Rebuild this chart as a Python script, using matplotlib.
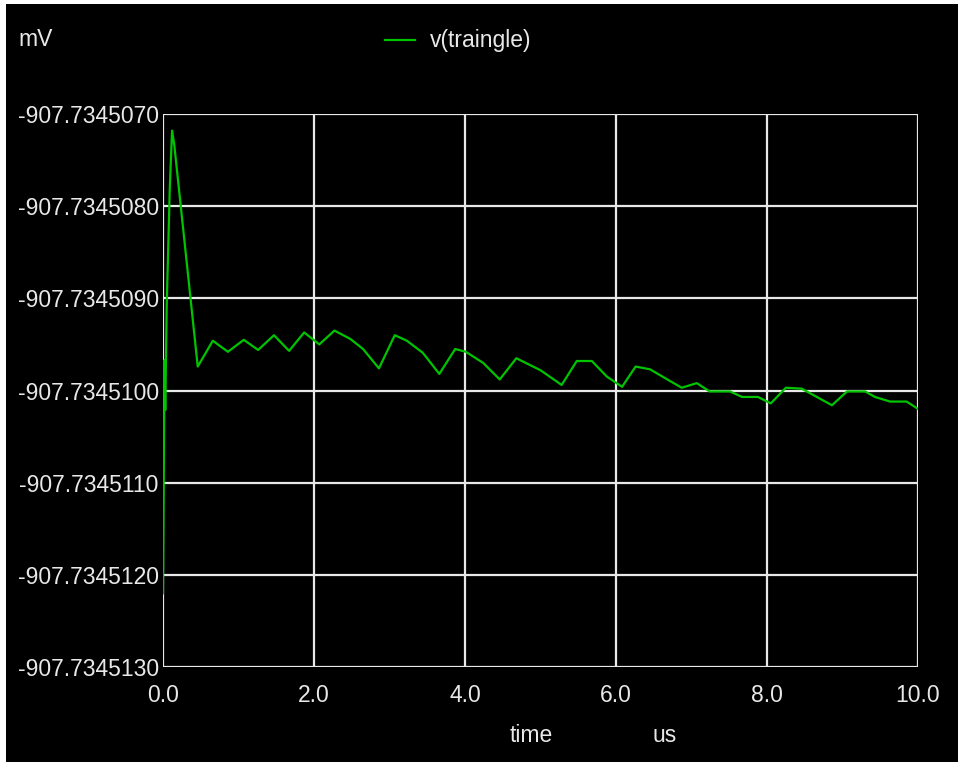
import matplotlib
matplotlib.use("Agg")
import matplotlib.pyplot as plt
from matplotlib.patches import Rectangle
from matplotlib.ticker import FormatStrFormatter

# time in us
time_us = [0.00, 0.02, 0.03, 0.04, 0.05, 0.09, 0.12, 0.15, 0.46, 0.66,
           0.86, 1.07, 1.26, 1.47, 1.67, 1.87, 2.07, 2.27, 2.48, 2.65,
           2.86, 3.07, 3.23, 3.44, 3.66, 3.87, 4.01, 4.24, 4.46, 4.68,
           5.00, 5.28, 5.48, 5.68, 5.88, 6.08, 6.26, 6.45, 6.68, 6.87,
           7.07, 7.24, 7.51, 7.67, 7.88, 8.05, 8.25, 8.46, 8.86, 9.06,
           9.30, 9.43, 9.63, 9.85, 10.00]
# v(traingle) in mV
v_mv = [-907.73451220, -907.73450967, -907.73451021, -907.73450961, -907.73450905,
        -907.73450780, -907.73450718, -907.73450734, -907.73450974, -907.73450946,
        -907.73450958, -907.73450945, -907.73450956, -907.73450940, -907.73450957,
        -907.73450937, -907.73450950, -907.73450935, -907.73450944, -907.73450955,
        -907.73450976, -907.73450940, -907.73450946, -907.73450959, -907.73450982,
        -907.73450955, -907.73450958, -907.73450970, -907.73450988, -907.73450965,
        -907.73450978, -907.73450994, -907.73450968, -907.73450968, -907.73450985,
        -907.73450996, -907.73450974, -907.73450977, -907.73450988, -907.73450997,
        -907.73450992, -907.73451001, -907.73451001, -907.73451007, -907.73451007,
        -907.73451014, -907.73450997, -907.73450998, -907.73451016, -907.73451001,
        -907.73451001, -907.73451007, -907.73451012, -907.73451012, -907.73451020]

y_ticks = [-907.7345130, -907.7345120, -907.7345110, -907.7345100,
           -907.7345090, -907.7345080, -907.7345070]
x_ticks = [0.0, 2.0, 4.0, 6.0, 8.0, 10.0]

plt.rcParams['font.family'] = ['Liberation Sans', 'DejaVu Sans']

fig = plt.figure(figsize=(9.58, 7.62), dpi=100, facecolor='white')
fig.patches.append(Rectangle((6 / 958, 0), 1, 758 / 762, transform=fig.transFigure,
                             facecolor='black', edgecolor='none', zorder=-1))
ax = fig.add_axes([163 / 958, 95 / 762, 755 / 958, 553 / 762])
ax.set_facecolor('black')

ax.plot(time_us, v_mv, color='#00c400', lw=1.6, zorder=3)

ax.set_xlim(0, 10)
ax.set_ylim(y_ticks[0], y_ticks[-1])
ax.set_xticks(x_ticks)
ax.set_yticks(y_ticks)
ax.xaxis.set_major_formatter(FormatStrFormatter('%.1f'))
ax.yaxis.set_major_formatter(FormatStrFormatter('%.7f'))
ax.grid(True, color='#e8e8e8', lw=1.6)
ax.tick_params(length=0, colors='#e8e8e8', labelsize=16.5, pad=3)
ax.tick_params(axis='x', pad=12)
for s in ax.spines.values():
    s.set_visible(False)

fig.text(18 / 958, 1 - 40 / 762, 'mV', color='#e8e8e8', fontsize=16.5, va='center')
fig.lines.append(plt.Line2D([385 / 958, 415 / 958], [1 - 40 / 762, 1 - 40 / 762],
                            transform=fig.transFigure, color='#00c400', lw=1.6))
fig.text(430 / 958, 1 - 40 / 762, 'v(traingle)', color='#e8e8e8', fontsize=16.5, va='center')
fig.text(510 / 958, 1 - 736 / 762, 'time', color='#e8e8e8', fontsize=16.5, va='center')
fig.text(652 / 958, 1 - 736 / 762, 'us', color='#e8e8e8', fontsize=16.5, va='center')

fig.savefig('out.png', dpi=100, facecolor=fig.get_facecolor())
